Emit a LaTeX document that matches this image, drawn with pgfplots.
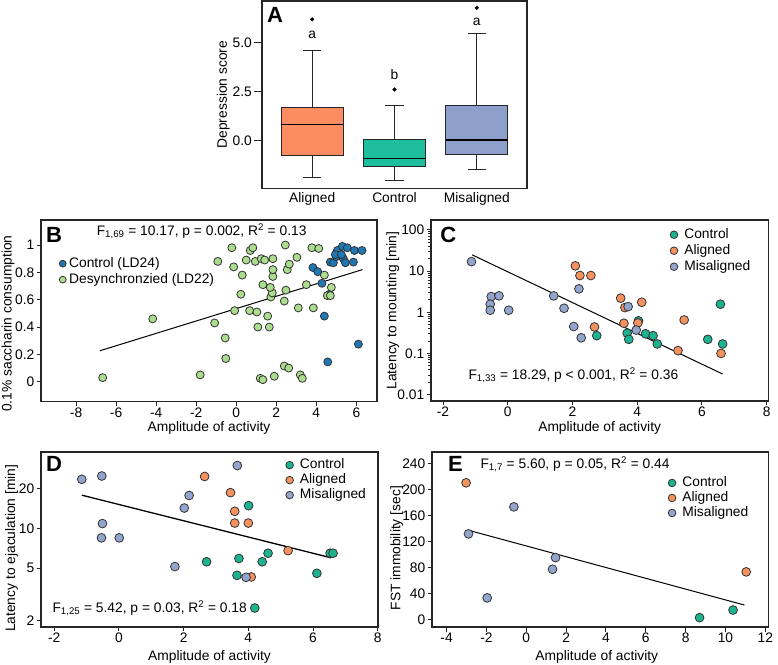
\documentclass[border=0pt]{standalone}
\usepackage{fontspec}
\setmainfont{Liberation Sans}
\usepackage{pgfplots}
\pgfplotsset{compat=1.18}
\usepgfplotslibrary{statistics}

\definecolor{cAl}{HTML}{FC8D62}
\definecolor{cCo}{HTML}{1DBF9F}
\definecolor{cMi}{HTML}{8DA0CB}
\definecolor{pAl}{HTML}{F4925F}
\definecolor{pCo}{HTML}{1EB390}
\definecolor{pMi}{HTML}{94A5CD}
\definecolor{bCt}{HTML}{1F78B4}
\definecolor{bDs}{HTML}{ACDC8E}

\pgfplotsset{
  panel/.style={
    scale only axis,
    anchor=north west,
    axis line style={line width=1.1pt, black!85},
    tick align=outside,
    major tick length=4.5pt,
    tick style={line width=0.9pt, black!85},
    xtick pos=left, ytick pos=left,
    /pgf/number format/assume math mode=true,
    xticklabel style={inner sep=1.5pt},
    yticklabel style={inner sep=2pt},
    legend cell align=left,
    legend style={draw=none, fill=none, inner sep=0pt, row sep=0pt,
      nodes={inner sep=1.5pt, text height=10pt, text depth=3pt},
      /tikz/every odd column/.append style={column sep=5pt}},
    legend image code/.code={\draw[mark repeat=2,mark phase=2,##1,mark size=3.8pt] plot coordinates {(0pt,0pt)(4.5pt,0pt)(9pt,0pt)};},
  },
  sc/.style={only marks, mark=*, mark size=4.4pt, mark options={draw=black!80, line width=0.8pt, fill=#1}},
  bx/.style={draw=black!85, line width=0.9pt, fill=#1, mark=*, mark size=1.9pt,
    mark options={fill=black, draw=black, line width=0.3pt, solid},
    boxplot/draw direction=y,
    boxplot/box extend=0.75, boxplot/whisker extend=0.22,
    boxplot/every median/.style={line width=1.8pt, black}},
}

\begin{document}
\begin{tikzpicture}[font=\fontsize{13.8}{16}\selectfont]
\useasboundingbox (0,0) rectangle (778pt,664pt);

% ---------------- A ----------------
\begin{axis}[panel, at={(262pt,663pt)}, width=265pt, height=187.3pt,
  xmin=0.39, xmax=3.61, ymin=-2.46, ymax=7.14,
  major tick length=8pt,
  xtick={1,2,3}, xticklabels={Aligned,Control,Misaligned},
  xtick style={draw=none},
  xticklabel style={yshift=5pt, inner sep=1pt},
  ytick={0,2.5,5}, yticklabels={0.0,2.5,5.0},
  ylabel={Depression score},
  ylabel style={at={(axis description cs:-0.146,0.5)}, anchor=center},
]
\addplot[bx=cAl, boxplot prepared={draw position=1, lower whisker=-1.91, lower quartile=-0.77, median=0.81, upper quartile=1.70, upper whisker=4.59}] coordinates {(0,6.2)};
\addplot[bx=cCo, boxplot prepared={draw position=2, lower whisker=-2.06, lower quartile=-1.34, median=-0.93, upper quartile=0.03, upper whisker=1.80}] coordinates {(0,2.6)};
\addplot[bx=cMi, boxplot prepared={draw position=3, lower whisker=-1.49, lower quartile=-0.72, median=0.03, upper quartile=1.77, upper whisker=5.48}] coordinates {(0,6.79)};
\node at (axis cs:1,5.4) {a};
\node at (axis cs:2,3.35) {b};
\node at (axis cs:3,6.05) {a};
\node[font=\fontsize{22}{24}\selectfont\bfseries] at (rel axis cs:0.049,0.925) {A};
\end{axis}

% ---------------- B ----------------
\begin{axis}[panel, at={(41pt,444pt)}, width=336pt, height=181.7pt,
  xmin=-9.75, xmax=7.03, ymin=-0.146, ymax=1.183,
  xtick={-8,-6,-4,-2,0,2,4,6}, xticklabels={-8,-6,-4,-2,0,2,4,6},
  ytick={0,0.2,0.4,0.6,0.8,1}, yticklabels={0,0.2,0.4,0.6,0.8,1},
  xlabel={Amplitude of activity}, ylabel={0.1\% saccharin consumption},
  xlabel style={at={(axis description cs:0.5,-0.145)}, anchor=center},
  ylabel style={at={(axis description cs:-0.098,0.43)}, anchor=center},
  legend style={at={(axis description cs:0.054,0.805)}, anchor=north west,
    /tikz/every odd column/.append style={column sep=1.5pt}},
  legend image code/.code={\draw[mark repeat=2,mark phase=2,#1,mark size=3.4pt] plot coordinates {(0pt,0pt)(3.5pt,0pt)(7pt,0pt)};},
]
\addplot[sc=bCt, mark size=4pt] coordinates {
(3.83,0.835) (4.07,0.805) (4.28,0.72) (4.4,0.48) (4.57,0.145) (4.65,0.64)
(4.7,0.875) (4.85,0.87) (5.0,0.915) (5.05,0.96) (5.3,0.99) (5.55,0.98)
(5.9,0.96) (6.28,0.96) (5.35,0.90) (5.45,0.87) (5.85,0.875) (6.1,0.275)
(4.95,0.93) (5.25,0.93)};
\addlegendentry{Control (LD24)}
\addplot[sc=bDs, mark size=4pt] coordinates {
(-6.67,0.03) (-4.17,0.46) (-1.8,0.05) (-1.08,0.43) (-0.55,0.32) (-0.52,0.17)
(-0.92,0.88) (-0.13,0.84) (-0.08,0.52) (0.23,0.64) (0.3,0.78) (0.5,0.89)
(0.67,0.52) (0.95,0.88) (1.03,0.51) (1.08,0.40) (1.2,0.025) (1.25,0.90)
(1.33,0.71) (1.33,0.015) (1.42,0.89) (1.57,0.48) (1.65,0.40) (1.73,0.62)
(1.8,0.65) (1.83,0.77) (1.83,0.82) (1.83,0.90) (1.9,0.04) (2.4,0.59)
(2.4,0.115) (2.48,0.67) (2.55,0.82) (2.62,0.10) (2.65,0.86) (3.03,0.91)
(3.1,0.54) (3.2,0.05) (3.3,0.025) (3.5,0.71) (3.85,0.54) (4.4,0.78)
(4.55,0.63) (4.7,0.63) (4.75,0.69) (-0.22,0.98) (0.7,0.96) (0.83,0.98)
(2.45,1.0) (3.78,0.98) (4.12,0.975) (1.7,0.69)};
\addlegendentry{Desynchronzied (LD22)}
\addplot[black, line width=1pt, forget plot] coordinates {(-6.8,0.227) (6.3,0.82)};
\node[font=\fontsize{22}{24}\selectfont\bfseries] at (rel axis cs:0.039,0.917) {B};
\node[anchor=east] at (rel axis cs:0.8006,0.9395) {F\textsubscript{1,69} = 10.17, p = 0.002, R\textsuperscript{2} = 0.13};
\end{axis}

% ---------------- C ----------------
\begin{axis}[panel, at={(431pt,444pt)}, width=337.3pt, height=181pt,
  xmin=-2.37, xmax=8.05, ymode=log, ymin=0.0070, ymax=174,
  xtick={-2,0,2,4,6,8}, xticklabels={-2,0,2,4,6,8},
  ytick={0.01,0.1,1,10,100}, yticklabels={0.01,0.1,1,10,100},
  xlabel={Amplitude of activity}, ylabel={Latency to mounting [min]},
  xlabel style={at={(axis description cs:0.5,-0.149)}, anchor=center},
  ylabel style={at={(axis description cs:-0.113,0.5)}, anchor=center},
  legend style={at={(axis description cs:0.7086,0.964)}, anchor=north west},
]
\addplot[sc=pCo] coordinates {
(2.75,0.27) (3.69,0.31) (3.74,0.22) (4.04,0.62) (4.26,0.30) (4.49,0.27)
(4.62,0.17) (6.18,0.22) (6.57,1.57) (6.64,0.17)};
\addlegendentry{Control}
\addplot[sc=pAl] coordinates {
(2.09,13.4) (2.23,7.8) (2.57,7.8) (3.49,2.2) (3.62,1.3) (4.14,1.75)
(2.68,0.44) (3.59,0.54) (4.02,0.55) (5.45,0.65) (5.26,0.117) (6.59,0.10)};
\addlegendentry{Aligned}
\addplot[sc=pMi] coordinates {
(-1.12,17) (-0.51,2.4) (-0.27,2.5) (-0.54,1.57) (-0.54,1.12) (0.03,1.12)
(1.42,2.5) (1.74,1.25) (2.2,3.7) (2.04,0.45) (2.27,0.24) (3.72,1.37) (3.97,0.37)};
\addlegendentry{Misaligned}
\addplot[black, line width=1pt, forget plot] coordinates {(-1.1,24.8) (6.64,0.0316)};
\node[font=\fontsize{22}{24}\selectfont\bfseries] at (rel axis cs:0.051,0.917) {C};
\node[anchor=west] at (rel axis cs:0.1008,0.1436) {F\textsubscript{1,33} = 18.29, p < 0.001, R\textsuperscript{2} = 0.36};
\end{axis}

% ---------------- D ----------------
\begin{axis}[panel, at={(41pt,212pt)}, width=337pt, height=175pt,
  xmin=-2.41, xmax=8.01, ymode=log, ymin=1.795, ymax=38.0,
  xtick={-2,0,2,4,6,8}, xticklabels={-2,0,2,4,6,8},
  ytick={2,5,10,20}, yticklabels={2,5,10,20},
  xlabel={Amplitude of activity}, ylabel={Latency to ejaculation [min]},
  xlabel style={at={(axis description cs:0.5,-0.17)}, anchor=center},
  ylabel style={at={(axis description cs:-0.087,0.45)}, anchor=center},
  legend style={at={(axis description cs:0.726,0.969)}, anchor=north west,
    nodes={inner sep=1.5pt, text height=9.5pt, text depth=2.5pt}},
]
\addplot[sc=pCo] coordinates {
(4.01,14.9) (2.71,5.6) (3.71,5.93) (3.65,4.42) (4.43,5.6) (4.61,6.5)
(6.12,4.58) (6.53,6.5) (6.62,6.5) (4.2,2.5)};
\addlegendentry{Control}
\addplot[sc=pAl] coordinates {
(2.65,24.8) (3.45,18.7) (3.58,13.5) (3.58,11) (4.0,11) (4.09,4.3) (5.23,6.8)};
\addlegendentry{Aligned}
\addplot[sc=pMi] coordinates {
(-1.15,23.6) (-0.53,25) (-0.51,10.9) (-0.54,8.5) (0.01,8.5) (1.73,5.15)
(2.02,14.3) (2.17,17.8) (3.66,30) (3.93,4.27)};
\addlegendentry{Misaligned}
\addplot[black, line width=1.3pt, forget plot] coordinates {(-1.15,17.9) (6.56,6.0)};
\node[font=\fontsize{22}{24}\selectfont\bfseries] at (rel axis cs:0.039,0.931) {D};
\node[anchor=west] at (rel axis cs:0.0237,0.1086) {F\textsubscript{1,25} = 5.42, p = 0.03, R\textsuperscript{2} = 0.18};
\end{axis}

% ---------------- E ----------------
\begin{axis}[panel, at={(432pt,212pt)}, width=336.3pt, height=175pt,
  xmin=-4.73, xmax=12.15, ymin=-11.8, ymax=257.4,
  xtick={-4,-2,0,2,4,6,8,10,12}, xticklabels={-4,-2,0,2,4,6,8,10,12},
  ytick={0,40,80,120,160,200,240}, yticklabels={0,40,80,120,160,200,240},
  xlabel={Amplitude of activity}, ylabel={FST immobility [sec]},
  xlabel style={at={(axis description cs:0.49,-0.17)}, anchor=center},
  ylabel style={at={(axis description cs:-0.105,0.45)}, anchor=center},
  legend style={at={(axis description cs:0.702,0.867)}, anchor=north west,
    nodes={inner sep=1.5pt, text height=9.5pt, text depth=2.5pt}},
]
\addplot[sc=pCo] coordinates {(8.7,2.6) (10.38,14.3)};
\addlegendentry{Control}
\addplot[sc=pAl] coordinates {(-3.02,210) (11.04,73)};
\addlegendentry{Aligned}
\addplot[sc=pMi] coordinates {(-0.62,173) (-2.9,131.5) (1.47,95) (1.32,77) (-1.96,33)};
\addlegendentry{Misaligned}
\addplot[black, line width=1pt, forget plot] coordinates {(-2.9,137) (10.95,22)};
\node[font=\fontsize{22}{24}\selectfont\bfseries] at (rel axis cs:0.070,0.930) {E};
\node[anchor=west] at (rel axis cs:0.1338,0.93) {F\textsubscript{1,7} = 5.60, p = 0.05, R\textsuperscript{2} = 0.44};
\end{axis}
\end{tikzpicture}
\end{document}
